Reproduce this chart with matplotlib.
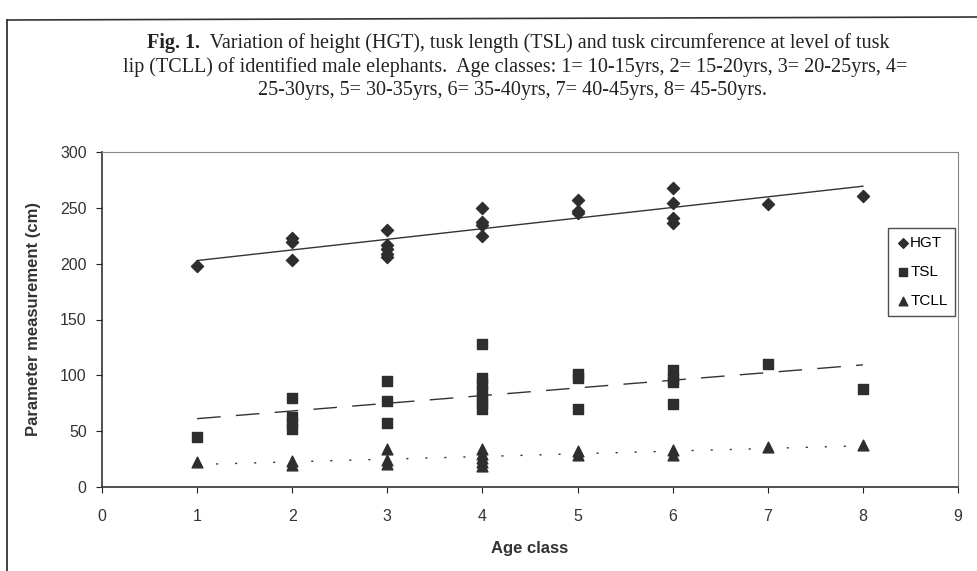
import matplotlib
matplotlib.use("Agg")
import matplotlib.pyplot as plt
import numpy as np

hgt_age = [1, 2, 2, 2, 3, 3, 3, 3, 3, 4, 4, 4, 4, 5, 5, 5, 6, 6, 6, 6, 7, 8]
hgt_cm = [198, 223, 219, 203, 230, 217, 213, 209, 206, 250, 237, 235, 225,
          257, 247, 245, 268, 254, 241, 236, 253, 261]

tsl_age = [1, 2, 2, 2, 2, 3, 3, 3, 4, 4, 4, 4, 4, 4, 4, 5, 5, 5, 6, 6, 6, 6, 7, 8]
tsl_cm = [45, 80, 63, 57, 52, 95, 77, 57, 128, 98, 92, 86, 80, 75, 70,
          101, 98, 70, 105, 97, 94, 74, 110, 88]

tcll_age = [1, 2, 2, 3, 3, 3, 4, 4, 4, 4, 4, 5, 5, 6, 6, 7, 8]
tcll_cm = [22, 23, 20, 34, 24, 21, 34, 30, 26, 22, 19, 32, 29, 33, 29, 36, 38]

series_names = ["HGT", "TSL", "TCLL"]

title_bold = "Fig. 1."
title_line1 = "  Variation of height (HGT), tusk length (TSL) and tusk circumference at level of tusk"
title_line2 = "lip (TCLL) of identified male elephants.  Age classes: 1= 10-15yrs, 2= 15-20yrs, 3= 20-25yrs, 4="
title_line3 = "25-30yrs, 5= 30-35yrs, 6= 35-40yrs, 7= 40-45yrs, 8= 45-50yrs."

W, H = 978, 571
fig = plt.figure(figsize=(W / 100, H / 100), dpi=100)
plt.rcParams['font.family'] = ['Liberation Sans', 'DejaVu Sans']

# outer frame (left and top only)
fx = lambda px: px / W
fy = lambda py: 1 - py / H
fig.add_artist(plt.Line2D([fx(7), fx(7)], [fy(20), 0], color="#222222", lw=1.2))
fig.add_artist(plt.Line2D([fx(7), 1], [fy(20), fy(17)], color="#333333", lw=1.2))

ax = fig.add_axes([fx(102), fy(487), fx(958) - fx(102), (487 - 152) / H])

mk_col = "#2e2e2e"
ax.scatter(hgt_age, hgt_cm, marker="D", s=38, color=mk_col, label=series_names[0], zorder=3)
ax.scatter(tsl_age, tsl_cm, marker="s", s=60, color=mk_col, label=series_names[1], zorder=3)
ax.scatter(tcll_age, tcll_cm, marker="^", s=60, color=mk_col, label=series_names[2], zorder=3)

# linear trend lines
xs = np.array([1, 8])
for age, val, ls in [(hgt_age, hgt_cm, "-"), (tsl_age, tsl_cm, (0, (17, 11))),
                     (tcll_age, tcll_cm, (0, (1.5, 12.2)))]:
    k, b = np.polyfit(age, val, 1)
    ax.plot(xs, k * xs + b, color="#333333", lw=1.0, linestyle=ls, zorder=2)

ax.set_xlim(0, 9)
ax.set_ylim(0, 300)
ax.set_xticks(range(0, 10))
ax.set_yticks(range(0, 301, 50))
ax.tick_params(direction="out", length=4, width=0.8, labelsize=11.5, colors="#222222",
               labelcolor="#333333", pad=7)
ax.tick_params(axis="x", pad=12)

for side in ["top", "right"]:
    ax.spines[side].set_color("#888888")
    ax.spines[side].set_linestyle((0, (1, 1)))
    ax.spines[side].set_linewidth(0.8)
for side in ["left", "bottom"]:
    ax.spines[side].set_color("#333333")
    ax.spines[side].set_linewidth(1.2)

ax.set_xlabel("Age class", fontsize=12, fontweight="bold", color="#333333", labelpad=12)
ax.set_ylabel("Parameter measurement (cm)", fontsize=12, fontweight="bold", color="#333333",
              labelpad=14)

leg = ax.legend(loc="upper left", bbox_to_anchor=((888 - 102) / (958 - 102), 1 - (228 - 152) / 335),
                frameon=True, fancybox=False, edgecolor="#222222", fontsize=11,
                handletextpad=0.05, borderpad=0.5, labelspacing=1.0, handlelength=0.9,
                markerscale=0.8, borderaxespad=0)
leg.get_frame().set_linewidth(1.0)

# title, first line has bold "Fig. 1." part
tfont = dict(family="Liberation Serif", fontsize=14.5, color="#222222")
t_b = fig.text(0, fy(43), title_bold, ha="left", va="center", fontweight="bold", **tfont)
t_n = fig.text(0, fy(43), title_line1, ha="left", va="center", **tfont)
fig.canvas.draw()
r = fig.canvas.get_renderer()
wb = t_b.get_window_extent(r).width
wn = t_n.get_window_extent(r).width
x0 = 518 - (wb + wn) / 2
t_b.set_x(fx(x0))
t_n.set_x(fx(x0 + wb))
fig.text(fx(515), fy(67), title_line2, ha="center", va="center", **tfont)
fig.text(fx(512), fy(91), title_line3, ha="center", va="center", **tfont)

fig.savefig("out.png", dpi=100)
